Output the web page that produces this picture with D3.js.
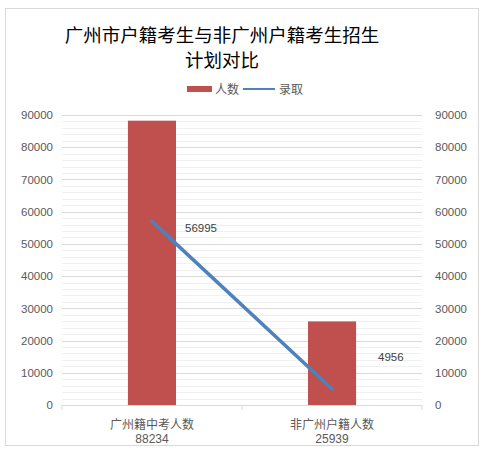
<!DOCTYPE html>
<html><head><meta charset="utf-8">
<script src="https://cdn.jsdelivr.net/npm/d3@7"></script>
<style>body{margin:0;background:#fff}svg{display:block}</style>
</head><body>
<svg id="c" width="486" height="453"></svg>
<script>
const categories = ["广州籍中考人数", "非广州户籍人数"];
const barValues = [88234, 25939];
const lineValues = [56995, 4956];
const tickValues = [0,10000,20000,30000,40000,50000,60000,70000,80000,90000];
const titleLines = ["广州市户籍考生与非广州户籍考生招生", "计划对比"];
const legendNames = ["人数", "录取"];

const svg = d3.select("#c");
const font = "'Liberation Sans', Arial, 'Noto Sans CJK SC', sans-serif";
const cjk = "'Noto Sans CJK SC', sans-serif";
const grey = "#595959";

svg.append("rect").attr("x",5.5).attr("y",8.5).attr("width",473).attr("height",437)
  .attr("fill","#fff").attr("stroke","#d9d9d9");

const pL = 62, pR = 422, pT = 115, pB = 405;
const x = d3.scaleBand().domain(categories).range([pL, pR]).paddingInner(0.733).paddingOuter(0.366);
const xc = d3.scalePoint().domain(categories).range([pL, pR]).padding(0.5);
const y = d3.scaleLinear().domain([0, 90000]).range([pB, pT]);

// minor gridlines
const minor = d3.range(0, 90001, 2000).filter(v => v % 10000 !== 0);
svg.append("g").selectAll("line").data(minor).join("line")
  .attr("x1", pL).attr("x2", pR).attr("y1", d => Math.round(y(d))+0.5).attr("y2", d => Math.round(y(d))+0.5)
  .attr("stroke", "#f0f0f0").attr("stroke-width", 1);
// major gridlines
svg.append("g").selectAll("line").data(tickValues).join("line")
  .attr("x1", pL).attr("x2", pR).attr("y1", d => Math.round(y(d))+0.5).attr("y2", d => Math.round(y(d))+0.5)
  .attr("stroke", "#d9d9d9").attr("stroke-width", 1);

// left axis
const la = svg.append("g").attr("transform", `translate(${pL-9},0)`)
  .call(d3.axisLeft(y).tickValues(tickValues).tickSize(0).tickPadding(0).tickFormat(d3.format("d")));
la.select(".domain").remove();
la.selectAll("text").attr("fill", grey).style("font-family", font).style("font-size", "11.5px");

// right axis
const ra = svg.append("g").attr("transform", `translate(${pR+13},0)`)
  .call(d3.axisRight(y).tickValues(tickValues).tickSize(0).tickPadding(0).tickFormat(d3.format("d")));
ra.select(".domain").remove();
ra.selectAll("text").attr("fill", grey).style("font-family", font).style("font-size", "11.5px");

// bars
svg.append("g").selectAll("rect").data(barValues).join("rect")
  .attr("x", (d,i) => x(categories[i])).attr("width", x.bandwidth())
  .attr("y", d => y(d)).attr("height", d => pB - y(d))
  .attr("fill", "#C0504D");

// category axis line
svg.append("line").attr("x1", pL).attr("x2", pR).attr("y1", pB+0.5).attr("y2", pB+0.5)
  .attr("stroke", "#d9d9d9");
svg.append("g").selectAll("line").data([pL, (pL+pR)/2, pR]).join("line")
  .attr("x1", d=>d).attr("x2", d=>d).attr("y1", pB).attr("y2", pB+5).attr("stroke","#d9d9d9");

// category labels
const cl = svg.append("g").selectAll("g").data(categories).join("g")
  .attr("transform", d => `translate(${xc(d)},0)`);
cl.append("text").attr("y", pB+24).attr("text-anchor","middle").attr("fill", grey)
  .style("font-family", cjk).style("font-size","12px").text(d => d);
cl.append("text").attr("y", pB+38).attr("text-anchor","middle").attr("fill", grey)
  .style("font-family", font).style("font-size","12px").text((d,i) => barValues[i]);

// line
const line = d3.line().x((d,i) => xc(categories[i])).y(d => y(d));
svg.append("path").datum(lineValues).attr("d", line).attr("fill","none")
  .attr("stroke", "#4F81BD").attr("stroke-width", 3.5).attr("stroke-linecap","round");

// line labels
const labelOffsets = [[33, 11], [46, -28]];
svg.append("g").selectAll("text").data(lineValues).join("text")
  .attr("x", (d,i) => xc(categories[i]) + labelOffsets[i][0])
  .attr("y", (d,i) => y(d) + labelOffsets[i][1])
  .attr("fill", "#404040").style("font-family", font).style("font-size","11.5px")
  .text(d => d);

// title
svg.append("g").selectAll("text").data(titleLines).join("text")
  .attr("x", 222).attr("y", (d,i) => 42 + i*25).attr("text-anchor","middle")
  .attr("fill", "#000").style("font-family", cjk).style("font-size","18.5px").text(d => d);

// legend
svg.append("rect").attr("x",187).attr("y",86).attr("width",25).attr("height",6).attr("fill","#C0504D");
svg.append("text").attr("x",215).attr("y",94).attr("fill",grey).style("font-family",cjk).style("font-size","12px").text(legendNames[0]);
svg.append("line").attr("x1",243).attr("x2",275).attr("y1",89).attr("y2",89).attr("stroke","#4F81BD").attr("stroke-width",2);
svg.append("text").attr("x",279).attr("y",94).attr("fill",grey).style("font-family",cjk).style("font-size","12px").text(legendNames[1]);
</script>
</body></html>
